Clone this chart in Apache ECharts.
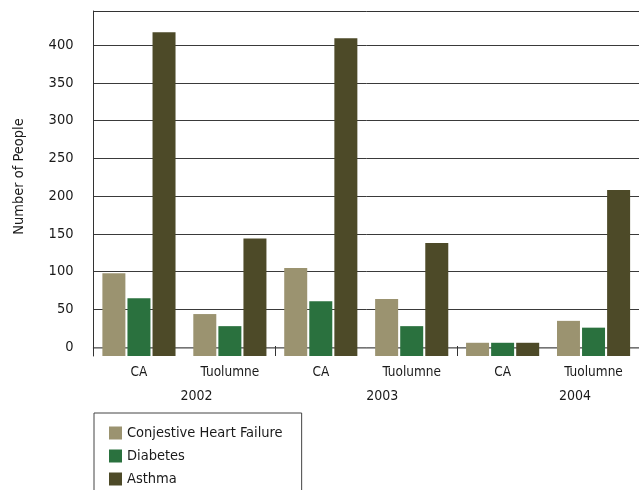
<!DOCTYPE html>
<html>
<head>
<meta charset="utf-8">
<script src="https://cdn.jsdelivr.net/npm/echarts@6/dist/echarts.min.js"></script>
<style>html,body{margin:0;padding:0;background:#fff}#c{width:639px;height:490px}</style>
</head>
<body>
<div id="c"></div>
<script>
const categories = ['CA', 'Tuolumne', 'CA', 'Tuolumne', 'CA', 'Tuolumne'];
const years = ['2002', '2003', '2004'];
const seriesNames = ['Conjestive Heart Failure', 'Diabetes', 'Asthma'];
const chf = [98, 44, 105, 64, 6, 35];
const diabetes = [65, 28, 61, 28, 6, 26];
const asthma = [417, 144, 409, 138, 6, 208];
const yTicks = [0, 50, 100, 150, 200, 250, 300, 350, 400];

const FONT = "'Liberation Sans Narrow', 'DejaVu Sans Condensed', sans-serif";
const TXT = '#1a1a1a';
const colors = ['#9b9370', '#2a713e', '#4d4a28'];
const values = [chf, diabetes, asthma];

const chart = echarts.init(document.getElementById('c'), null, {renderer: 'canvas'});
chart.setOption({
  animation: false,
  backgroundColor: '#fff',
  textStyle: {fontFamily: FONT, color: TXT},
  grid: {left: 93.5, right: -2, top: 11, bottom: 134, show: false},
  legend: {
    orient: 'vertical', left: 94, top: 413, height: 200,
    padding: [12, 19, 24, 15],
    borderColor: '#444', borderWidth: 1,
    itemWidth: 13, itemHeight: 13, itemGap: 7,
    icon: 'rect',
    textStyle: {fontFamily: FONT, fontSize: 14.5, lineHeight: 16, color: TXT},
    data: seriesNames
  },
  xAxis: [
    {
      type: 'category', data: categories, position: 'bottom',
      axisLine: {show: true, lineStyle: {color: '#888', width: 1.5}},
      axisTick: {show: false},
      axisLabel: {margin: 9, fontSize: 13.5, fontFamily: FONT, color: TXT, interval: 0}
    },
    {
      type: 'category', data: years, position: 'bottom',
      axisLine: {show: false},
      axisTick: {show: true, inside: true, length: 10, lineStyle: {color: '#333'}},
      axisLabel: {
        margin: 33, fontSize: 14, fontFamily: FONT, color: TXT, interval: 0,
        formatter: (v, i) => '{y' + i + '|' + v + '}',
        rich: {
          y0: {padding: [0, 0, 0, 24], fontSize: 14, fontFamily: FONT, color: TXT},
          y1: {padding: [0, 0, 0, 32], fontSize: 14, fontFamily: FONT, color: TXT},
          y2: {padding: [0, 0, 0, 54], fontSize: 14, fontFamily: FONT, color: TXT}
        }
      }
    },
    {
      type: 'category', data: categories, position: 'top',
      axisLine: {show: true, lineStyle: {color: '#333', width: 1}},
      axisTick: {show: false},
      axisLabel: {show: false}
    }
  ],
  yAxis: {
    type: 'value', min: -11.5, max: 445, startValue: -11.5,
    name: 'Number of People', nameLocation: 'middle', nameGap: 67,
    nameTextStyle: {fontSize: 14.5, fontFamily: FONT, color: TXT, padding: [0, 0, 0, 14]},
    axisLine: {show: true, lineStyle: {color: '#333'}},
    axisTick: {show: false, customValues: yTicks},
    axisLabel: {margin: 20, fontSize: 14.5, fontFamily: FONT, color: TXT, customValues: yTicks},
    splitLine: {show: true, lineStyle: {color: '#3a3a3a', width: 1}}
  },
  series: seriesNames.map((n, i) => ({
    name: n, type: 'bar', xAxisIndex: 0, data: values[i],
    barWidth: 23, barGap: '9%',
    itemStyle: {color: colors[i]}
  }))
});
</script>
</body>
</html>
